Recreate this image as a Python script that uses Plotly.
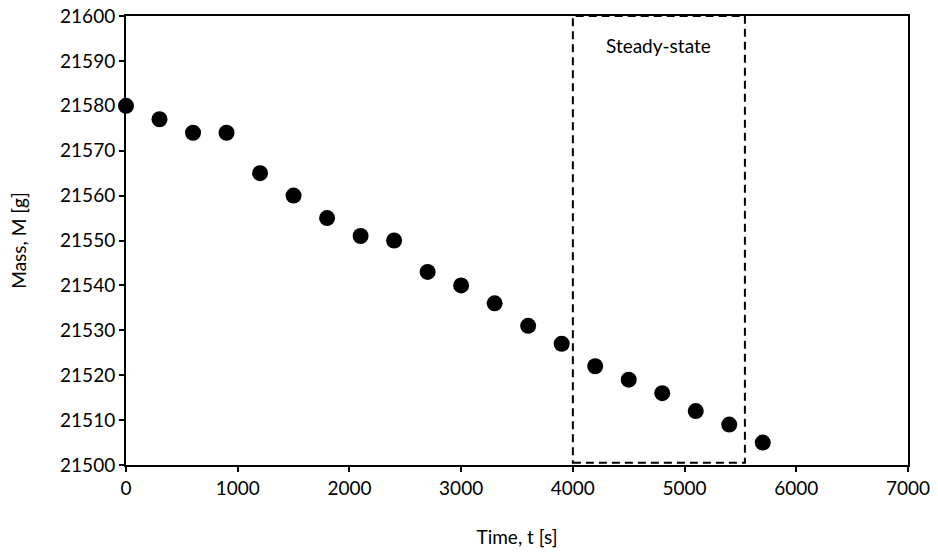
import plotly.graph_objects as go

time_s = [0, 300, 600, 900, 1200, 1500, 1800, 2100, 2400, 2700, 3000, 3300, 3600, 3900,
          4200, 4500, 4800, 5100, 5400, 5700]
mass_g = [21580, 21577, 21574, 21574, 21565, 21560, 21555, 21551, 21550, 21543, 21540,
          21536, 21531, 21527, 21522, 21519, 21516, 21512, 21509, 21505]
box_x = [4000, 5540]
box_y = [21500.5, 21600]
box_label = "Steady-state"

FONT = "Lato"

fig = go.Figure()
fig.add_trace(go.Scatter(x=time_s, y=mass_g, mode="markers",
                         marker=dict(color="black", size=16), showlegend=False,
                         cliponaxis=False))
fig.add_shape(type="rect", x0=box_x[0], x1=box_x[1], y0=box_y[0], y1=box_y[1],
              xref="x", yref="y", line=dict(color="black", width=2, dash="8px,5px"))
fig.add_annotation(x=(box_x[0] + box_x[1]) / 2, y=21593.5, text=box_label, showarrow=False,
                   xref="x", yref="y", font=dict(family=FONT, size=19, color="black"))

axis_common = dict(showgrid=False, zeroline=False, showline=True, linecolor="black",
                   linewidth=2, ticks="outside", ticklen=5, tickwidth=2, tickcolor="black",
                   mirror=True, automargin=False, tickformat="d",
                   tickfont=dict(family=FONT, size=19, color="black"))
fig.update_xaxes(range=[0, 7000], dtick=1000, title=dict(text="Time, t [s]",
                 font=dict(family=FONT, size=19, color="black"), standoff=33), **axis_common)
fig.update_yaxes(range=[21500, 21600], dtick=10, title=dict(text="Mass, M [g]",
                 font=dict(family=FONT, size=19, color="black"), standoff=28), **axis_common)
fig.update_layout(width=938, height=554, plot_bgcolor="white", paper_bgcolor="white",
                  margin=dict(l=126, r=30, t=16, b=89), font=dict(family=FONT))
fig.write_html("out.html", config={"displayModeBar": False},
               post_script="document.body.style.margin='0';")
